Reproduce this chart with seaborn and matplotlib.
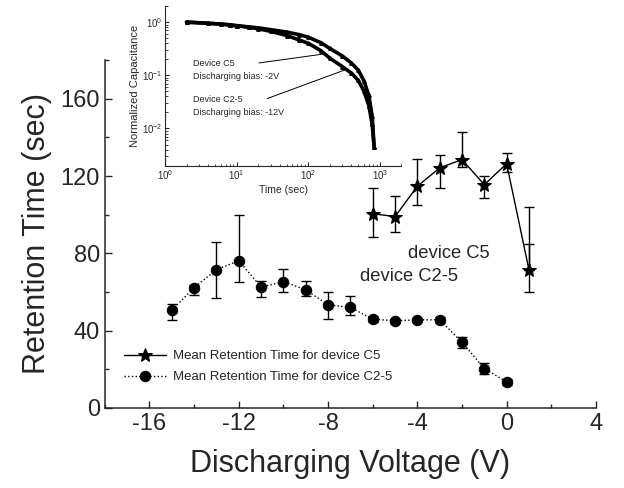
import numpy as np
import pandas as pd
import seaborn as sns
import matplotlib.pyplot as plt
from matplotlib.ticker import MultipleLocator, LogLocator, NullFormatter

# main plot data
c5_v = [-6, -5, -4, -3, -2, -1, 0, 1]
c5_t = [100.5, 99, 114.7, 124.2, 128.5, 115.5, 126.4, 71.5]
c5_lo = [12.3, 8, 9.7, 10.2, 3.8, 7, 4.4, 11.5]
c5_hi = [13.3, 10.8, 14.1, 6.8, 14.3, 4.3, 5.6, 32.5]

c25_v = [-15, -14, -13, -12, -11, -10, -9, -8, -7, -6, -5, -4, -3, -2, -1, 0]
c25_t = [50.5, 62.3, 71.5, 76.2, 62.5, 65.4, 61.1, 53.4, 52, 46, 45.1, 45.6, 45.6, 34, 20.4, 13.5]
c25_lo = [5, 4, 14.5, 11, 5, 5.4, 3.1, 7.4, 3.8, 1.5, 1, 1.2, 1.5, 2.8, 2.8, 1.5]
c25_hi = [3.5, 1.5, 14.4, 23.8, 3, 6.6, 4.5, 6.6, 6, 1.5, 1, 1.2, 1.5, 2.8, 2.8, 1.5]

# inset data (normalized capacitance vs time)
ins_time = [2, 4, 6, 8, 10, 15, 20, 30, 50, 75, 100, 150, 200, 300, 400, 500, 600, 700, 780, 830]
ins_c5 = [1.0, 0.95, 0.92, 0.89, 0.86, 0.81, 0.78, 0.72, 0.65, 0.58, 0.52, 0.41, 0.32, 0.23,
          0.17, 0.125, 0.078, 0.042, 0.017, 0.0045]
ins_c25 = [1.0, 0.95, 0.92, 0.88, 0.85, 0.80, 0.75, 0.67, 0.56, 0.46, 0.40, 0.29, 0.21, 0.145,
           0.11, 0.08, 0.05, 0.027, 0.012, 0.0045]

sns.set_style("ticks")
plt.rcParams['font.family'] = ['Liberation Sans', 'DejaVu Sans']
plt.rcParams['axes.unicode_minus'] = False
plt.rcParams['mathtext.fontset'] = 'custom'
plt.rcParams['mathtext.rm'] = 'Liberation Sans'
plt.rcParams['mathtext.it'] = 'Liberation Sans:italic'
plt.rcParams['mathtext.bf'] = 'Liberation Sans:bold'
plt.rcParams['xtick.direction'] = 'in'
plt.rcParams['ytick.direction'] = 'in'

df_c5 = pd.DataFrame({"v": c5_v, "t": c5_t})
df_c25 = pd.DataFrame({"v": c25_v, "t": c25_t})

fig = plt.figure(figsize=(6.24, 4.88), dpi=100)
ax = fig.add_axes([0.168, 0.164, 0.787, 0.713])

ax.errorbar(c5_v, c5_t, yerr=[c5_lo, c5_hi], fmt='none', ecolor='black',
            elinewidth=1, capsize=3.6, capthick=1)
ax.errorbar(c5_v[-1:], c5_t[-1:], yerr=[[0], [13.3]], fmt='none', ecolor='black',
            elinewidth=1, capsize=3.6, capthick=1)
ax.errorbar(c25_v, c25_t, yerr=[c25_lo, c25_hi], fmt='none', ecolor='black',
            elinewidth=1, capsize=3.6, capthick=1)

sns.lineplot(data=df_c5, x="v", y="t", ax=ax, color='black', lw=1, marker='*',
             markersize=10, markeredgecolor='black', label="Mean Retention Time for device C5")
sns.lineplot(data=df_c25, x="v", y="t", ax=ax, color='black', lw=1, linestyle=':',
             marker='o', markersize=7.5, markeredgecolor='black',
             label="Mean Retention Time for device C2-5")

ax.set_xlim(-18, 4)
ax.set_ylim(0, 180)
ax.xaxis.set_major_locator(MultipleLocator(4))
ax.xaxis.set_minor_locator(MultipleLocator(2))
ax.yaxis.set_major_locator(MultipleLocator(40))
ax.yaxis.set_minor_locator(MultipleLocator(20))
ax.set_yticks([0, 40, 80, 120, 160])
ax.tick_params(which='major', length=5, width=1, labelsize=17)
ax.tick_params(which='minor', length=3, width=1)
for s in ['top', 'right']:
    ax.spines[s].set_visible(False)
for s in ['left', 'bottom']:
    ax.spines[s].set_linewidth(1.1)
ax.set_xlabel("Discharging Voltage (V)", fontsize=22, labelpad=10)
ax.set_ylabel("Retention Time (sec)", fontsize=22, labelpad=6)

ax.legend(loc='upper left', bbox_to_anchor=(0.026, 0.185), frameon=False, fontsize=9.5,
          handlelength=3.2, handletextpad=0.5, labelspacing=0.65, borderpad=0)

ax.text(-4.43, 79.8, "device C5", fontsize=13.2, va='center', ha='left')
ax.text(-6.58, 67.9, "device C2-5", fontsize=13.2, va='center', ha='left')

# inset
ins = fig.add_axes([0.2644, 0.6605, 0.379, 0.327])
ins.plot(ins_time, ins_c5, color='black', lw=2.6, marker='^', markersize=2.5)
ins.plot(ins_time, ins_c25, color='black', lw=2.6, marker='^', markersize=2.5)
ins.set_xscale('log')
ins.set_yscale('log')
ins.set_xlim(1, 2000)
ins.set_ylim(0.002, 2)
ins.xaxis.set_major_locator(LogLocator(base=10, numticks=10))
ins.xaxis.set_minor_locator(LogLocator(base=10, subs=np.arange(2, 10), numticks=20))
ins.xaxis.set_minor_formatter(NullFormatter())
ins.yaxis.set_major_locator(LogLocator(base=10, numticks=10))
ins.yaxis.set_minor_locator(LogLocator(base=10, subs=np.arange(2, 10), numticks=20))
ins.yaxis.set_minor_formatter(NullFormatter())
ins.set_yticks([0.01, 0.1, 1])
ins.set_xticks([1, 10, 100, 1000])
ins.tick_params(which='major', length=3, width=0.8, labelsize=7, pad=2)
ins.tick_params(which='minor', length=1.8, width=0.6)
for s in ['top', 'right']:
    ins.spines[s].set_visible(False)
ins.set_xlabel("Time (sec)", fontsize=7.5, labelpad=2)
ins.set_ylabel("Normalized Capacitance", fontsize=8, labelpad=1)
ins.patch.set_alpha(0)

ins.text(2.45, 0.126, "Device C5\nDischarging bias: -2V", fontsize=6.5, va='center',
         ha='left', linespacing=1.6)
ins.text(2.45, 0.0266, "Device C2-5\nDischarging bias: -12V", fontsize=6.5, va='center',
         ha='left', linespacing=1.6)
ins.annotate("", xy=(196, 0.26), xytext=(18.8, 0.168),
             arrowprops=dict(arrowstyle='-', color='black', lw=0.7))
ins.annotate("", xy=(372, 0.135), xytext=(24.5, 0.035),
             arrowprops=dict(arrowstyle='-', color='black', lw=0.7))

fig.savefig("out.png", dpi=100)
